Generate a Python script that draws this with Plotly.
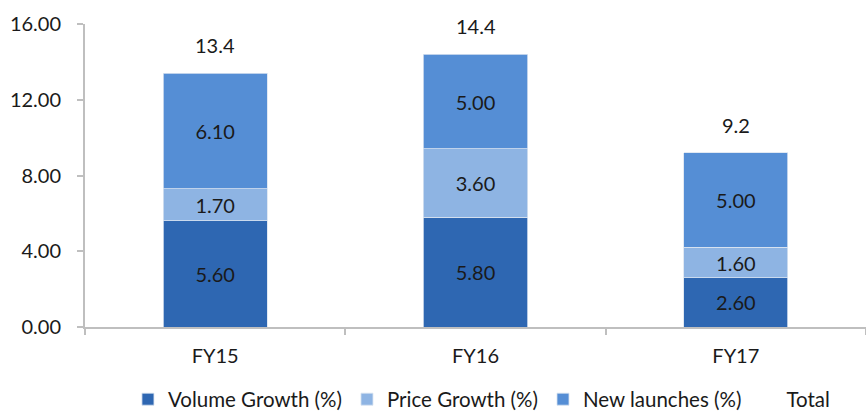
import plotly.graph_objects as go

categories = ["FY15", "FY16", "FY17"]
volume = [5.6, 5.8, 2.6]
price = [1.7, 3.6, 1.6]
launches = [6.1, 5.0, 5.0]
total = [13.4, 14.4, 9.2]
yticks = [0, 4, 8, 12, 16]

FONT = "Lato"
c_vol = "#2E67B2"
c_price = "#8EB4E3"
c_new = "#558ED5"

fig = go.Figure()
for name, vals, col in [("Volume Growth (%)", volume, c_vol),
                        ("Price Growth (%)", price, c_price),
                        ("New launches (%)", launches, c_new)]:
    fig.add_trace(go.Bar(
        x=categories, y=vals, name=name, marker_color=col,
        marker_line=dict(color="#D9E3F0", width=0.8),
        text=[f"{v:.2f}" for v in vals], textposition="inside",
        insidetextanchor="middle", textangle=0,
        textfont=dict(family=FONT, size=20, color="#1a1a1a"),
    ))

fig.add_trace(go.Scatter(
    x=categories, y=total, name="Total", mode="lines",
    line=dict(color="rgba(0,0,0,0)", width=0), hoverinfo="skip",
))
for c, t in zip(categories, total):
    fig.add_annotation(x=c, y=t, text=f"{t:.1f}", showarrow=False,
                       yanchor="bottom", yshift=14,
                       font=dict(family=FONT, size=20, color="#1a1a1a"))

fig.update_layout(
    width=866, height=416,
    margin=dict(l=85, r=0, t=24, b=89, autoexpand=False),
    barmode="stack", bargap=0.6,
    plot_bgcolor="white", paper_bgcolor="white",
    font=dict(family=FONT, size=20, color="#1a1a1a"),
    showlegend=True,
    legend=dict(orientation="h", x=0.055, xanchor="left",
                yref="container", y=0.04, yanchor="middle",
                font=dict(family=FONT, size=20.5, color="#1a1a1a"),
                itemwidth=30, traceorder="normal"),
    uniformtext=dict(mode=False),
)
fig.update_xaxes(
    showline=True, linecolor="#BFBFBF", linewidth=2,
    ticks="outside", tickson="boundaries", ticklen=6, tickcolor="#BFBFBF",
    tickwidth=2, ticklabelstandoff=10,
    tickfont=dict(family=FONT, size=20, color="#1a1a1a"),
)
fig.update_yaxes(
    range=[0, 16], tickvals=yticks, ticktext=[f"{v:.2f}" for v in yticks],
    showline=True, linecolor="#BFBFBF", linewidth=2, showgrid=False,
    ticks="outside", ticklen=6, tickcolor="#BFBFBF", tickwidth=2,
    ticklabelstandoff=12, zeroline=False,
    tickfont=dict(family=FONT, size=20, color="#1a1a1a"),
)

fig.write_html("out.html")
